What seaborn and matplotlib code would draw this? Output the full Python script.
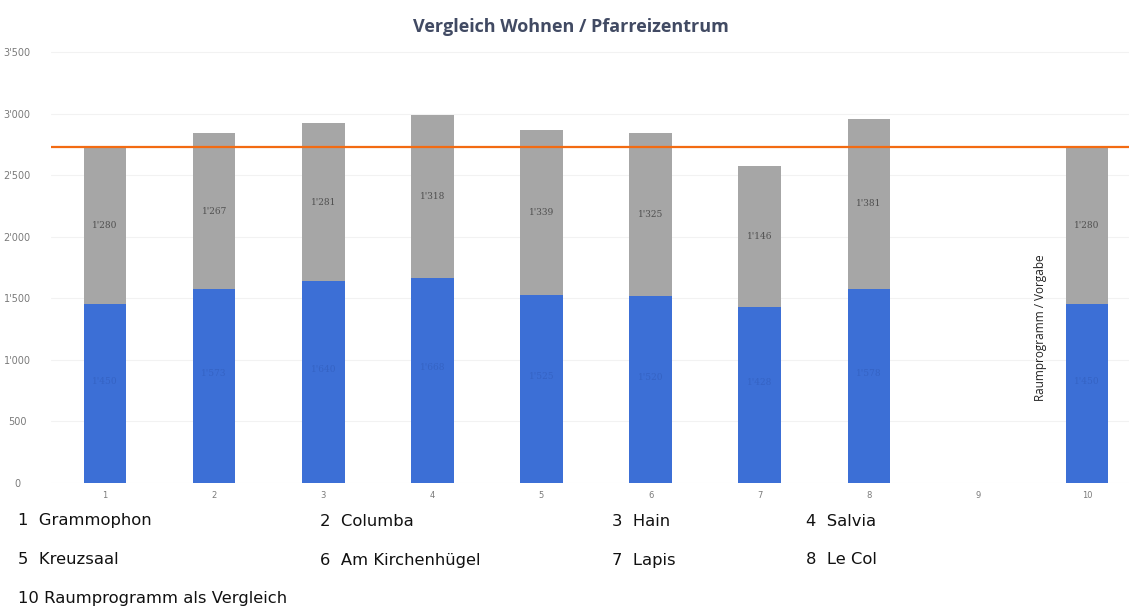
import numpy as np
import pandas as pd
import matplotlib
matplotlib.use("Agg")
import matplotlib.pyplot as plt
import seaborn as sns

categories = ["1", "2", "3", "4", "5", "6", "7", "8", "9", "10"]
wohnen = [1450, 1573, 1640, 1668, 1525, 1520, 1428, 1578, np.nan, 1450]
pfarreizentrum = [1280, 1267, 1281, 1318, 1339, 1325, 1146, 1381, np.nan, 1280]
vorgabe = 2730
yticks = [0, 500, 1000, 1500, 2000, 2500, 3000, 3500]
legend_rows = [
    [("1  Grammophon", 18), ("2  Columba", 320), ("3  Hain", 612), ("4  Salvia", 806)],
    [("5  Kreuzsaal", 18), ("6  Am Kirchenhügel", 320), ("7  Lapis", 612), ("8  Le Col", 806)],
    [("10 Raumprogramm als Vergleich", 18)],
]
title = "Vergleich Wohnen / Pfarreizentrum"
side_label = "Raumprogramm / Vorgabe"

sns.set_theme(style="white")
plt.rcParams["font.family"] = ["DejaVu Sans"]

df = pd.DataFrame({"cat": categories, "blue": wohnen, "gray": pfarreizentrum})
df["total"] = df["blue"] + df["gray"]

W, H = 1129, 610
fig = plt.figure(figsize=(W / 100, H / 100), dpi=100)
ax_left = 50.5 / W
ax_bottom = (H - 483) / H
ax_height = 3600 * 0.12314 / H
ax = fig.add_axes([ax_left, ax_bottom, (W - 50.5) / W, ax_height])

gray_c = "#a6a6a6"
blue_c = "#3c6fd6"
sns.barplot(data=df, x="cat", y="total", order=categories, color=gray_c,
            saturation=1, width=0.39, ax=ax, errorbar=None, linewidth=0)
sns.barplot(data=df, x="cat", y="blue", order=categories, color=blue_c,
            saturation=1, width=0.39, ax=ax, errorbar=None, linewidth=0)

ax.set_ylim(0, 3600)
ax.set_xlim(-0.5, 9.385)
ax.axhline(vorgabe, color="#f36b12", lw=1.6, zorder=5)

def fmt(v):
    v = int(round(v))
    return f"{v:,}".replace(",", "'")

for i, (b, g) in enumerate(zip(wohnen, pfarreizentrum)):
    if np.isnan(b):
        continue
    ax.text(i, b + g / 2, fmt(g), ha="center", va="center", fontsize=6.5,
            family="DejaVu Serif", color="#505050", zorder=6)
    ax.text(i, b / 2 + 100, fmt(b), ha="center", va="center", fontsize=6.5,
            family="DejaVu Serif", color="#3563c4", zorder=6)

ax.set_yticks(yticks)
ax.set_yticklabels([fmt(v) for v in yticks], fontsize=7, color="#7a7a7a")
ax.tick_params(axis="both", length=0)
ax.tick_params(axis="x", pad=6, labelsize=6, labelcolor="#7a7a7a")
for lbl in ax.get_yticklabels():
    lbl.set_horizontalalignment("center")
ax.yaxis.set_tick_params(pad=24)
ax.set_xlabel("")
ax.set_ylabel("")
ax.grid(axis="y", color="#f2f2f2", lw=0.8)
ax.set_axisbelow(True)
for s in ax.spines.values():
    s.set_visible(False)

ax.text(8.57, 1260, side_label, rotation=90, ha="center", va="center",
        fontsize=8.5, family="Open Sans", color="#222222", zorder=6)

fig.text(571 / W, 1 - 27 / H, title, ha="center", va="center", fontsize=13,
         family="Open Sans", fontweight="bold", color="#414a63")

row_y = [521, 560, 598]
for row, y in zip(legend_rows, row_y):
    for txt, x in row:
        fig.text(x / W, 1 - y / H, txt, ha="left", va="center", fontsize=11.8,
                 family="DejaVu Sans", color="#111111")

fig.savefig("out.png", dpi=100)
